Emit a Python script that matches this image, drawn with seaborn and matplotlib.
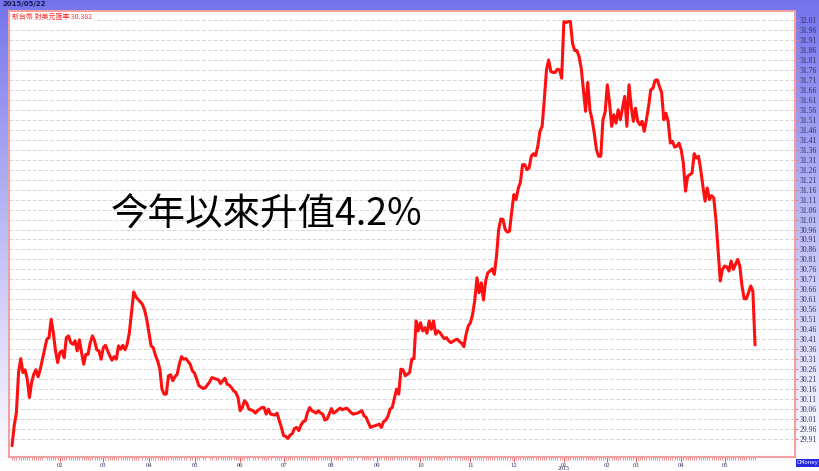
import numpy as np
import pandas as pd
import matplotlib
matplotlib.use("Agg")
import matplotlib.pyplot as plt
from matplotlib.ticker import FixedLocator
import seaborn as sns

# trading-day index (0 = first day of 2014) and TWD/USD rate
days = [0, 1, 2, 3, 4, 5, 6, 7, 8, 9, 10, 11, 12, 13, 14, 16, 17, 18, 19, 20,
        21, 22, 23, 24, 25, 26, 27, 28, 29, 30, 31, 32, 33, 34, 35, 36, 37, 38, 39, 40,
        41, 42, 43, 44, 45, 46, 47, 48, 49, 50, 51, 52, 53, 54, 55, 56, 57, 58, 60, 61,
        62, 63, 64, 65, 66, 67, 68, 69, 70, 71, 72, 73, 74, 75, 76, 77, 78, 79, 80, 82,
        83, 84, 85, 86, 88, 89, 91, 92, 94, 95, 96, 97, 98, 99, 100, 101, 102, 103, 104, 105,
        106, 107, 108, 109, 111, 112, 113, 115, 116, 117, 118, 119, 121, 122, 123, 124, 125, 126, 127, 128,
        129, 130, 131, 132, 133, 134, 135, 136, 137, 138, 139, 140, 141, 142, 143, 144, 145, 146, 147, 148,
        149, 150, 151, 152, 154, 155, 156, 157, 159, 161, 162, 163, 164, 165, 166, 168, 169, 170, 171, 172,
        173, 174, 175, 176, 177, 178, 179, 180, 181, 182, 183, 184, 185, 186, 187, 188, 189, 190, 191, 192,
        193, 194, 195, 196, 197, 198, 199, 200, 201, 202, 204, 205, 206, 207, 208, 209, 210, 211, 212, 213,
        214, 215, 216, 217, 218, 219, 220, 221, 222, 223, 224, 225, 226, 227, 228, 229, 230, 231, 232, 233,
        234, 235, 236, 237, 238, 239, 240, 241, 242, 243, 244, 245, 246, 247, 248, 249, 250, 251, 252, 253,
        254, 255, 256, 257, 258, 259, 260, 261, 262, 263, 264, 265, 266, 267, 268, 269, 270, 271, 272, 273,
        274, 275, 276, 277, 278, 279, 280, 281, 282, 283, 284, 285, 286, 287, 288, 289, 290, 291, 292, 293,
        294, 295, 296, 297, 298, 299, 300, 301, 302, 303, 304, 305, 306, 307, 308, 309, 310, 311, 312, 313,
        314, 315, 316, 317, 318, 319, 320, 321, 322, 323, 324, 325, 326, 327, 328, 329, 330, 331, 332, 333,
        334, 335, 336, 337, 338, 339, 340, 341, 342]

rate = [29.877, 29.977, 30.043, 30.243, 30.313, 30.243, 30.257, 30.21, 30.118, 30.193,
        30.235, 30.257, 30.222, 30.26, 30.31, 30.41, 30.418, 30.51, 30.443, 30.352,
        30.293, 30.343, 30.352, 30.318, 30.418, 30.427, 30.393, 30.385, 30.402, 30.352,
        30.407, 30.343, 30.285, 30.335, 30.335, 30.393, 30.427, 30.402, 30.357, 30.352,
        30.31, 30.368, 30.38, 30.352, 30.327, 30.305, 30.323, 30.31, 30.377, 30.36,
        30.38, 30.357, 30.385, 30.443, 30.543, 30.647, 30.623, 30.61, 30.585, 30.557,
        30.51, 30.443, 30.377, 30.368, 30.33, 30.302, 30.263, 30.16, 30.135, 30.135,
        30.227, 30.232, 30.202, 30.222, 30.235, 30.285, 30.323, 30.31, 30.313, 30.285,
        30.252, 30.24, 30.21, 30.177, 30.163, 30.168, 30.197, 30.218, 30.21, 30.207,
        30.188, 30.202, 30.215, 30.185, 30.18, 30.168, 30.152, 30.143, 30.118, 30.052,
        30.068, 30.102, 30.09, 30.06, 30.052, 30.04, 30.052, 30.068, 30.068, 30.035,
        30.06, 30.035, 30.03, 30.04, 30.002, 29.968, 29.927, 29.923, 29.913, 29.93,
        29.937, 29.963, 29.968, 29.952, 29.98, 29.997, 30.002, 30.043, 30.068, 30.052,
        30.047, 30.04, 30.052, 30.04, 30.035, 30.005, 30.01, 30.035, 30.063, 30.04,
        30.047, 30.057, 30.065, 30.057, 30.065, 30.055, 30.043, 30.035, 30.04, 30.052,
        30.027, 30.018, 29.993, 29.968, 29.973, 29.98, 29.985, 29.968, 29.997, 30.005,
        30.023, 30.06, 30.068, 30.113, 30.16, 30.135, 30.26, 30.257, 30.227, 30.235,
        30.243, 30.31, 30.313, 30.502, 30.452, 30.493, 30.452, 30.468, 30.44, 30.502,
        30.46, 30.502, 30.435, 30.452, 30.443, 30.427, 30.413, 30.418, 30.402, 30.393,
        30.407, 30.41, 30.398, 30.39, 30.373, 30.435, 30.477, 30.493, 30.535, 30.605,
        30.718, 30.643, 30.693, 30.607, 30.702, 30.743, 30.752, 30.763, 30.735, 30.827,
        30.96, 31.013, 31.01, 30.96, 30.947, 30.952, 31.05, 31.135, 31.11, 31.165,
        31.197, 31.285, 31.285, 31.26, 31.268, 31.327, 31.34, 31.33, 31.377, 31.452,
        31.477, 31.61, 31.76, 31.81, 31.752, 31.747, 31.747, 31.763, 31.76, 31.718,
        32.002, 31.997, 32.002, 32.002, 31.893, 31.857, 31.857, 31.827, 31.768, 31.66,
        31.552, 31.697, 31.56, 31.51, 31.443, 31.36, 31.327, 31.327, 31.51, 31.548,
        31.685, 31.6, 31.477, 31.535, 31.493, 31.56, 31.51, 31.57, 31.627, 31.477,
        31.685, 31.577, 31.502, 31.568, 31.502, 31.485, 31.502, 31.452, 31.51, 31.577,
        31.66, 31.668, 31.707, 31.71, 31.677, 31.647, 31.51, 31.543, 31.502, 31.393,
        31.402, 31.373, 31.377, 31.393, 31.36, 31.293, 31.152, 31.227, 31.235, 31.243,
        31.34, 31.318, 31.327, 31.26, 31.177, 31.102, 31.168, 31.11, 31.13, 31.118,
        31.01, 30.852, 30.702, 30.76, 30.777, 30.773, 30.752, 30.802, 30.76, 30.785,
        30.81, 30.777, 30.677, 30.613, 30.613, 30.643, 30.677, 30.652, 30.382]

# first trading day of each month (index) and its label
month_days = [22, 42, 63, 84, 105, 125, 147, 168, 188, 211, 231, 254, 274, 287, 308, 328]
month_labels = ["02", "03", "04", "05", "06", "07", "08", "09", "10", "11", "12",
                "01", "02", "03", "04", "05"]
year_day = 254
year_label = "2015"

ytick_vals = np.round(np.arange(29.91, 32.0101, 0.05), 2)

df = pd.DataFrame({"day": days, "rate": rate})

sns.set_style("white")
plt.rcParams["font.family"] = ["Noto Sans CJK TC", "DejaVu Sans"]

fig = plt.figure(figsize=(8.2, 4.71), dpi=100)

# blue -> white gradient background
bg = fig.add_axes([0, 0, 1, 1], zorder=-10)
t = np.linspace(0, 1, 256)[:, None]
top = np.array([0x72, 0x72, 0xec]) / 255
grad = top + (1 - top) * t[..., None] ** 0.9
grad = np.repeat(grad, 2, axis=1)
bg.imshow(grad, aspect="auto", extent=[0, 1, 0, 1], origin="upper")
bg.axis("off")

ax = fig.add_axes([9 / 820, 1 - 457 / 471, 786 / 820, 446 / 471])
ax.set_facecolor("white")

sns.lineplot(data=df, x="day", y="rate", ax=ax, color="#ff1010", linewidth=2.2)

ax.set_xlim(-1.4, 360.4)
ax.set_ylim(29.82, 32.055)

ax.yaxis.tick_right()
ax.set_yticks(ytick_vals)
ax.set_yticklabels([f"{v:.2f}" for v in ytick_vals], family="Liberation Serif",
                   fontsize=5.5, color="#303060")
ax.tick_params(axis="y", length=2, pad=1.5, color="#e08080")
ax.yaxis.grid(True, color="#d6d6d6", linestyle=(0, (4, 2)), linewidth=0.7)
ax.xaxis.grid(False)

ax.set_xticks(month_days)
ax.set_xticklabels(month_labels, family="Liberation Serif", fontsize=4.7,
                   color="#303060")
ax.xaxis.set_minor_locator(FixedLocator(days))
ax.tick_params(axis="x", which="major", length=3.5, pad=0.6, color="#e06060")
ax.tick_params(axis="x", which="minor", length=2, color="#f08080", width=0.6)
ax.tick_params(axis="x", bottom=True, which="both")

ax.annotate(year_label, xy=(year_day, 0), xycoords=("data", "axes fraction"),
            xytext=(0, -8.4), textcoords="offset points", ha="center", va="center",
            family="Liberation Serif", fontsize=4.3, color="#303060",
            annotation_clip=False)

for s in ax.spines.values():
    s.set_color("#f0a0a0")
    s.set_linewidth(1.5)

ax.set_xlabel("")
ax.set_ylabel("")

ax.text(0.004, 0.986, "新台幣 對美元匯率 30.382", transform=ax.transAxes,
        fontsize=5, color="#ff3030", va="center", ha="left",
        bbox=dict(facecolor="white", edgecolor="none", pad=1))

ax.text(0.327, 0.543, "今年以來升值4.2%", transform=ax.transAxes,
        fontsize=27, color="black", ha="center", va="center")

fig.text(0.003, 0.991, "2015/05/22", fontsize=5, fontweight="bold",
         color="#1a1a50", ha="left", va="center", family="DejaVu Sans")

fig.text(0.985, 0.017, "CMoney", fontsize=4, color="white", ha="center",
         va="center", family="DejaVu Sans",
         bbox=dict(facecolor="#2828e0", edgecolor="none", pad=0.8))

fig.savefig("out.png", dpi=100)
